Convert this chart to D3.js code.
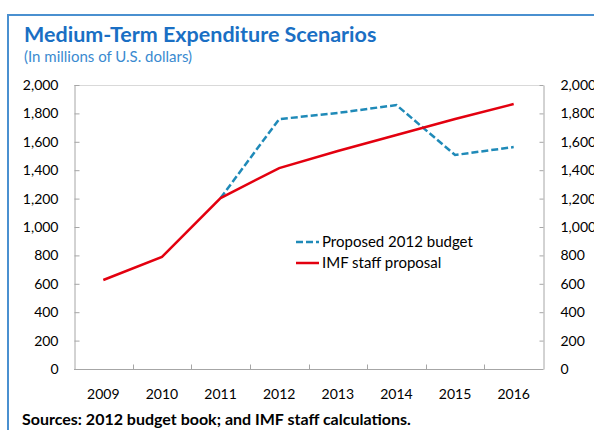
<!DOCTYPE html>
<html>
<head>
<meta charset="utf-8">
<script src="https://cdn.jsdelivr.net/npm/d3@7"></script>
<style>
  body { margin: 0; background: #fff; }
  svg { display: block; font-family: Lato, "Open Sans", sans-serif; }
</style>
</head>
<body>
<svg id="vis" width="594" height="430"></svg>
<script>
// chart data
var years = ["2009", "2010", "2011", "2012", "2013", "2014", "2015", "2016"];
var imfProposal = [627, 789, 1204, 1415, 1535, 1648, 1760, 1866];
var budget2012 = [null, null, 1204, 1760, 1803, 1859, 1507, 1563];
var yTicks = [0, 200, 400, 600, 800, 1000, 1200, 1400, 1600, 1800, 2000];

var svg = d3.select("#vis");

// outer blue frame (runs off the right and bottom edges)
svg.append("path")
    .attr("d", "M8,440 V15 H600")
    .attr("fill", "none")
    .attr("stroke", "#4a90d0")
    .attr("stroke-width", 2);

svg.append("text")
    .attr("x", 24).attr("y", 42)
    .attr("font-size", 21.5).attr("font-weight", "bold")
    .attr("fill", "#1a6fc4")
    .text("Medium-Term Expenditure Scenarios");

svg.append("text")
    .attr("x", 24).attr("y", 62)
    .attr("font-size", 15)
    .attr("fill", "#3a8ad0")
    .text("(In millions of U.S. dollars)");

svg.append("text")
    .attr("x", 22).attr("y", 425)
    .attr("font-size", 16).attr("font-weight", "bold")
    .attr("fill", "#000")
    .text("Sources: 2012 budget book; and IMF staff calculations.");

var plotLeft = 74, plotRight = 543, plotTop = 85, plotBottom = 369;

var x = d3.scaleBand().domain(years).range([plotLeft, plotRight]);
var y = d3.scaleLinear().domain([0, 2000]).range([plotBottom, plotTop]);

// top border of the plot
svg.append("line")
    .attr("x1", plotLeft).attr("x2", plotRight)
    .attr("y1", plotTop + 0.5).attr("y2", plotTop + 0.5)
    .attr("stroke", "#d9d9d9");

var fmt = d3.format(",");

var yLeft = svg.append("g")
    .attr("transform", "translate(" + (plotLeft + 0.5) + ",0)")
    .call(d3.axisLeft(y).tickValues(yTicks).tickFormat(fmt).tickSizeInner(-5).tickSizeOuter(0).tickPadding(16));

var yRight = svg.append("g")
    .attr("transform", "translate(" + (plotRight + 0.5) + ",0)")
    .call(d3.axisRight(y).tickValues(yTicks).tickFormat(fmt).tickSizeInner(-4).tickSizeOuter(0).tickPadding(17));

// x axis: ticks sit on category boundaries
var xAxis = svg.append("g")
    .attr("transform", "translate(0," + (plotBottom + 0.5) + ")");
xAxis.append("line")
    .attr("x1", plotLeft).attr("x2", plotRight)
    .attr("stroke", "#a6a6a6");
xAxis.selectAll("line.tick")
    .data(years.slice(1))
    .enter().append("line")
    .attr("class", "tick")
    .attr("x1", d => Math.round(x(d)) + 0.5).attr("x2", d => Math.round(x(d)) + 0.5)
    .attr("y1", 0).attr("y2", -5)
    .attr("stroke", "#a6a6a6");
xAxis.selectAll("text")
    .data(years)
    .enter().append("text")
    .attr("x", d => x(d) + x.bandwidth() / 2)
    .attr("y", 29)
    .attr("text-anchor", "middle")
    .attr("font-size", 14)
    .attr("fill", "#000")
    .text(d => d);

[yLeft, yRight].forEach(function (g) {
    g.select(".domain").attr("stroke", "#a6a6a6");
    g.selectAll(".tick line").attr("stroke", "#a6a6a6");
    g.selectAll(".tick text").attr("font-size", 14).attr("fill", "#000").attr("font-family", "Lato, 'Open Sans', sans-serif");
});
yRight.selectAll(".tick text").attr("text-anchor", "start");

var line = d3.line()
    .defined(d => d != null)
    .x((d, i) => x(years[i]) + x.bandwidth() / 2)
    .y(d => y(d));

svg.append("path")
    .datum(budget2012)
    .attr("d", line)
    .attr("fill", "none")
    .attr("stroke", "#1f8ab8")
    .attr("stroke-width", 2.5)
    .attr("stroke-dasharray", "7,3");

svg.append("path")
    .datum(imfProposal)
    .attr("d", line)
    .attr("fill", "none")
    .attr("stroke", "#e3000f")
    .attr("stroke-width", 2.5);

// legend
var legend = [
    { label: "Proposed 2012 budget", color: "#1f8ab8", dash: "7,3" },
    { label: "IMF staff proposal", color: "#e3000f", dash: null }
];
var lg = svg.selectAll("g.legend")
    .data(legend)
    .enter().append("g")
    .attr("class", "legend")
    .attr("transform", (d, i) => "translate(296," + (242 + i * 21) + ")");
lg.append("line")
    .attr("x1", 0).attr("x2", 23)
    .attr("stroke", d => d.color)
    .attr("stroke-width", 2.5)
    .attr("stroke-dasharray", d => d.dash);
lg.append("text")
    .attr("x", 26).attr("y", 5)
    .attr("font-size", 15)
    .text(d => d.label);
</script>
</body>
</html>
